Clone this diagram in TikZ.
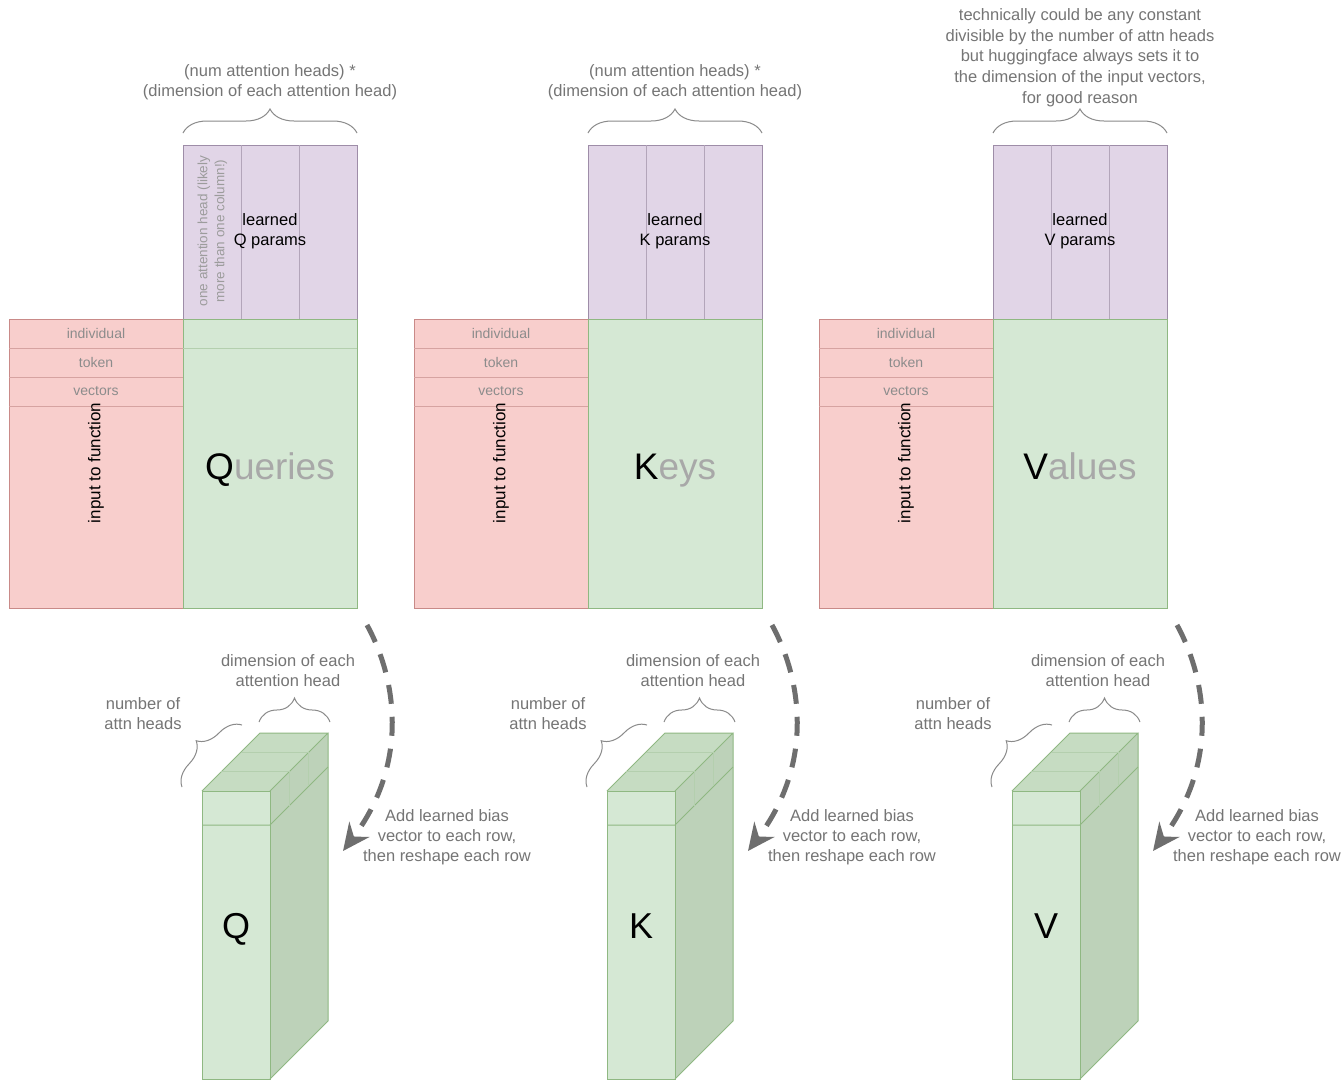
\documentclass[tikz,border=0pt]{standalone}
\usepackage{fontspec}
\setmainfont{Liberation Sans}
\usetikzlibrary{decorations.pathreplacing,arrows.meta}

\definecolor{redfill}{HTML}{F8CECC}
\definecolor{redline}{HTML}{C98A88}
\definecolor{redrow}{HTML}{D6A3A1}
\definecolor{greenfill}{HTML}{D5E8D4}
\definecolor{greenline}{HTML}{8FB882}
\definecolor{greenrow}{HTML}{B4CFAE}
\definecolor{greentop}{HTML}{C6DCC2}
\definecolor{greenside}{HTML}{BDD2B9}
\definecolor{purplefill}{HTML}{E1D5E7}
\definecolor{purpleline}{HTML}{9E8DA8}
\definecolor{purplerow}{HTML}{B3A5BA}
\definecolor{notegray}{HTML}{757575}
\definecolor{rowgray}{HTML}{8C8C8C}
\definecolor{headgray}{HTML}{9C9C9C}
\definecolor{wordgray}{HTML}{A8A8A8}
\definecolor{bracegray}{HTML}{8A8A8A}
\definecolor{arrowgray}{HTML}{6E6E6E}

\tikzset{
  inputbox/.style={fill=redfill,draw=redline,line width=1pt},
  rowline/.style={draw=redrow,line width=0.9pt},
  resultbox/.style={fill=greenfill,draw=greenline,line width=1pt},
  paramsbox/.style={fill=purplefill,draw=purpleline,line width=1pt},
  headline/.style={draw=purplerow,line width=0.9pt},
  note/.style={text=notegray,font=\fontsize{16.5}{20}\selectfont,align=center,inner sep=0pt},
  bodytext/.style={text=black,font=\fontsize{16.5}{20}\selectfont,align=center,inner sep=0pt},
  rowlabel/.style={text=rowgray,font=\fontsize{14}{16}\selectfont,inner sep=0pt},
  bigword/.style={font=\fontsize{37}{40}\selectfont,inner sep=0pt,anchor=base},
  bracemark/.style={draw=bracegray,line width=1pt,decorate,decoration={brace,amplitude=#1}},
  reshape/.style={draw=arrowgray,line width=5pt,dash pattern=on 19pt off 13pt,
    -{Stealth[length=27pt,width=25pt,inset=9pt]}},
  cubeedge/.style={draw=greenline,line width=1pt},
}

% One projection panel: input rows, learned weights, product, reshaped tensor
% #1 horizontal shift, #2 letter, #3 rest of the word
\newcommand\attnpanel[3]{%
\begin{scope}[xshift=#1]
  % learned weight matrix, split into head columns
  \draw[paramsbox] (183,145) rectangle (357,319);
  \draw[headline] (241,145) -- (241,319) (299,145) -- (299,319);
  \node[bodytext] (params#2) at (270,231) {learned\\#2 params};
  \draw[bracemark=24pt] (183,133) -- (357,133);
  % input token vectors
  \draw[inputbox] (9,319) rectangle (183,608);
  \draw[rowline] (9,348) -- (183,348) (9,377) -- (183,377) (9,406) -- (183,406);
  \node[rowlabel] (ind#2) at (96,333) {individual};
  \node[rowlabel] (tok#2) at (96,362) {token};
  \node[rowlabel] (vec#2) at (96,391) {vectors};
  \node[bodytext,rotate=90,font=\fontsize{17}{20}\selectfont] (input#2) at (96,463) {input to function};
  % projected result
  \draw[resultbox] (183,319) rectangle (357,608);
  \node[bigword] (word#2) at (270,479) {#2{\color{wordgray}#3}};
  % reshaped tensor drawn as a cuboid
  \fill[greentop] (202,791) -- (260,733) -- (328,733) -- (270,791) -- cycle;
  \fill[greenside] (270,791) -- (328,733) -- (328,1021) -- (270,1079) -- cycle;
  \draw[cubeedge,fill=greenfill] (202,791) rectangle (270,1079);
  \draw[cubeedge] (202,791) -- (260,733) -- (328,733) -- (270,791)
                  (328,733) -- (328,1021) -- (270,1079);
  \draw[cubeedge] (202,825) -- (270,825) -- (328,767);
  \draw[cubeedge,draw=greenrow] (221.3,771.7) -- (289.3,771.7) -- (289.3,805.7)
                  (240.7,752.3) -- (308.7,752.3) -- (308.7,786.3);
  \node[bigword,font=\fontsize{36}{40}\selectfont] (tensor#2) at (236,938) {#2};
  \draw[bracemark=22pt] (182,787) -- (242,725);
  \node[note] (numheads#2) at (143,714) {number of\\attn heads};
  \draw[bracemark=24pt] (259,722) -- (330,722);
  \node[note] (headdim#2) at (288,671) {dimension of each\\attention head};
  % bias + reshape step
  \coordinate (from#2) at (367,625);
  \coordinate (to#2) at (343,851);
  \draw[reshape] (from#2) .. controls (398,682) and (408,765) .. (to#2);
  \node[note] (bias#2) at (447,837) {Add learned bias\\vector to each row,\\then reshape each row};
\end{scope}}

\begin{document}
\begin{tikzpicture}[x=1pt,y=-1pt]
  \useasboundingbox[fill=white] (0,0) rectangle (1344,1080);

  \attnpanel{0pt}{Q}{ueries}
  \attnpanel{405pt}{K}{eys}
  \attnpanel{810pt}{V}{alues}

  % extra detail on the first panel
  \draw[draw=greenrow,line width=0.9pt] (183,348) -- (357,348);
  \node[text=headgray,font=\fontsize{13.5}{17}\selectfont,align=center,rotate=90,inner sep=0pt]
    (onehead) at (212.5,231) {one attention head (likely\\more than one column!)};

  % width labels above the weight matrices
  \node[note] (widthQ) at (270,82) {(num attention heads) *\\(dimension of each attention head)};
  \node[note] (widthK) at (675,82) {(num attention heads) *\\(dimension of each attention head)};
  \node[note,font=\fontsize{16.5}{20.75}\selectfont] (widthV) at (1080,57.5)
    {technically could be any constant\\divisible by the number of attn heads\\but huggingface always sets it to\\the dimension of the input vectors,\\for good reason};
\end{tikzpicture}
\end{document}
